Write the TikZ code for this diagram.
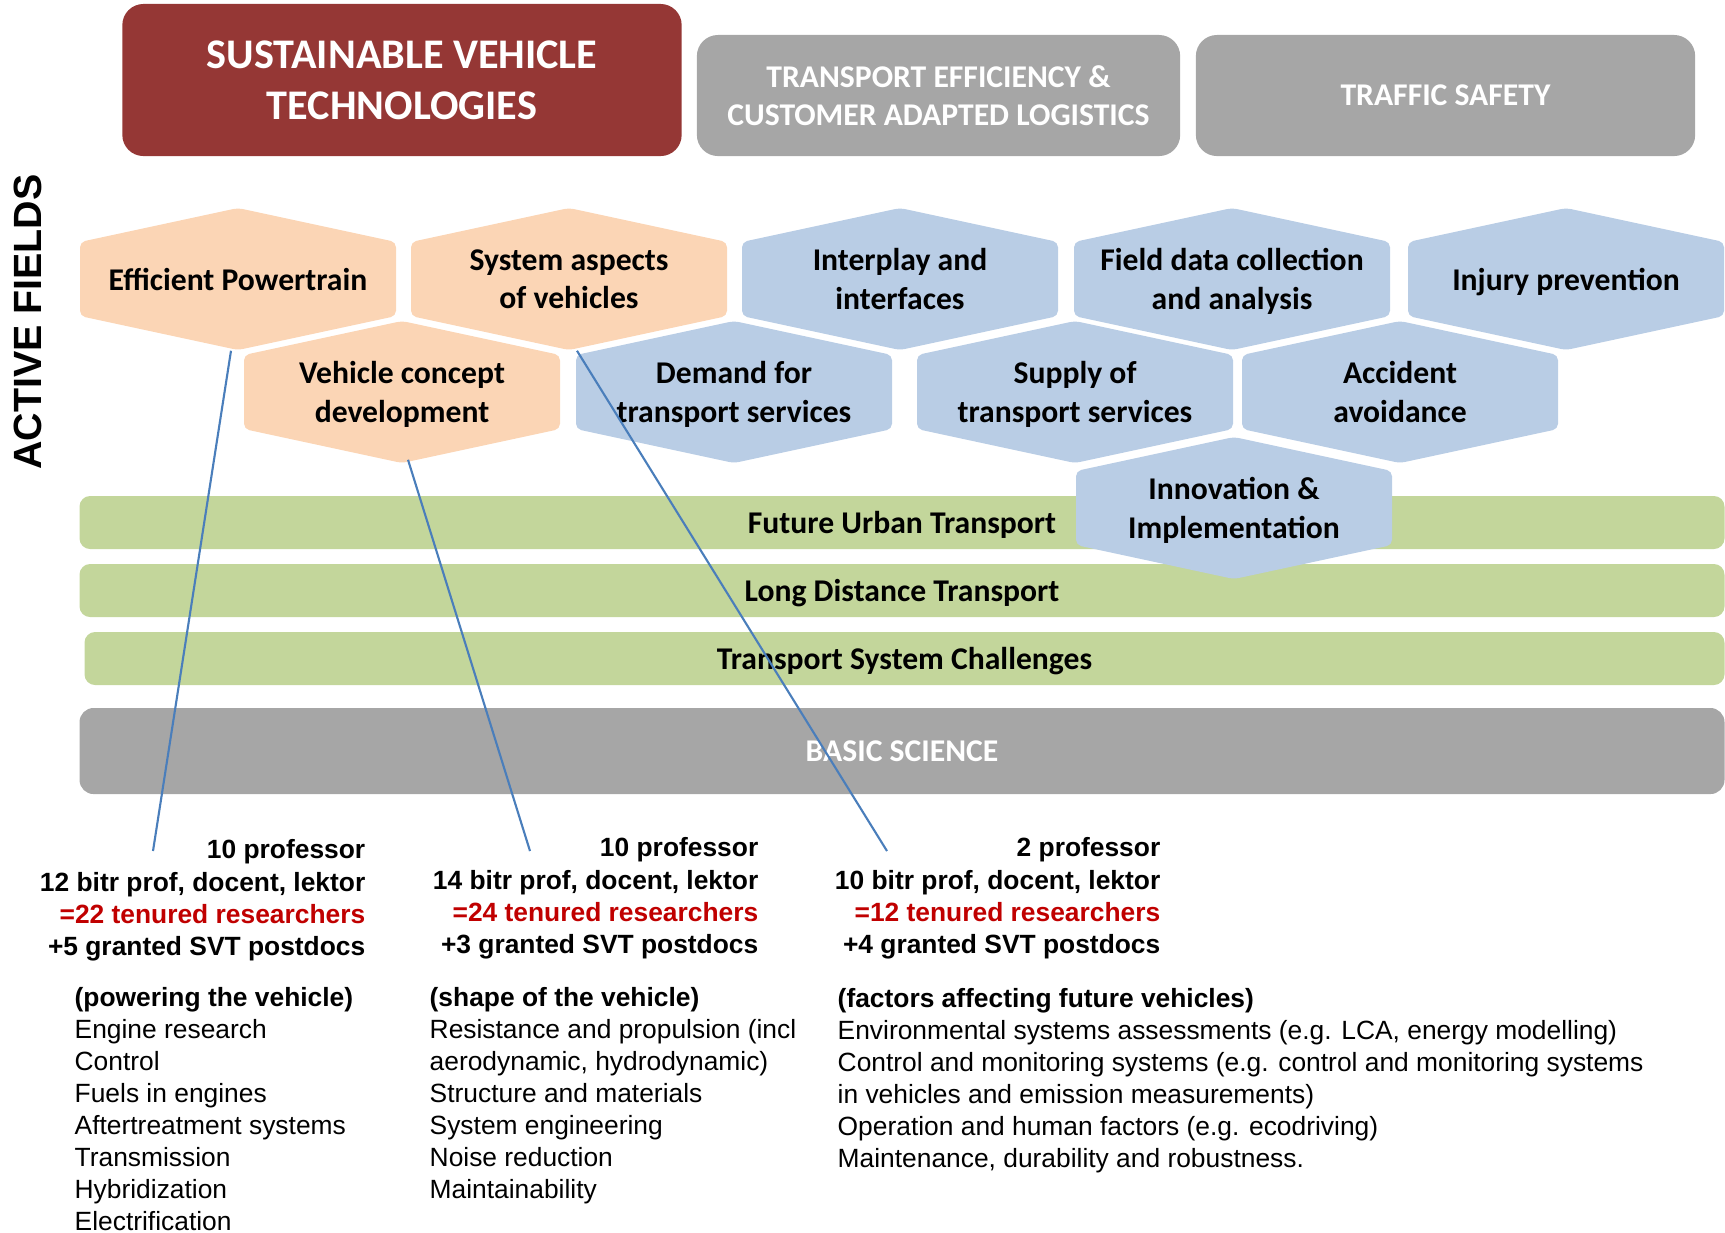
\documentclass[tikz,border=0pt]{standalone}
\usepackage{fontspec}
\setmainfont{Carlito}
\newfontfamily\arialfont{Liberation Sans}

\definecolor{svtred}{RGB}{149,55,53}
\definecolor{boxgrey}{RGB}{166,166,166}
\definecolor{peach}{RGB}{251,213,181}
\definecolor{hexblue}{RGB}{185,205,229}
\definecolor{bandgreen}{RGB}{195,214,155}
\definecolor{tenred}{RGB}{192,0,0}
\definecolor{linkblue}{RGB}{74,126,187}

\begin{document}
\begin{tikzpicture}[x=0.01cm, y=-0.01cm,
  hexcell/.style={minimum width=3.16cm, minimum height=1.42cm, inner sep=0pt, align=center,
    text depth=0pt, font=\bfseries\fontsize{9}{11}\selectfont},
  headbox/.style={fill=#1, rounded corners=6pt, text=white, align=center, inner sep=0pt,
    text depth=0pt, font=\bfseries\fontsize{9}{11}\selectfont},
  band/.style={fill=#1, rounded corners=3pt, inner sep=0pt, text depth=0pt,
    font=\bfseries\fontsize{9}{11}\selectfont},
  link/.style={draw=linkblue, line width=0.6pt},
  stats/.style={align=right, anchor=north east, inner sep=0pt,
    font=\arialfont\bfseries\fontsize{7.5}{9.2}\selectfont},
  topics/.style={align=left, anchor=north west, inner sep=0pt,
    font=\arialfont\fontsize{7.5}{9.1}\selectfont}]
\useasboundingbox (0,0) rectangle (1725,1232);

% theme boxes
\node[headbox=svtred, minimum width=5.59cm, minimum height=1.52cm,
  font=\bfseries\fontsize{12}{14.7}\selectfont] (svt) at (402,80) {SUSTAINABLE VEHICLE\\TECHNOLOGIES};
\node[headbox=boxgrey, minimum width=4.83cm, minimum height=1.21cm] (tel) at (938.5,95.5) {TRANSPORT EFFICIENCY \&\\CUSTOMER ADAPTED LOGISTICS};
\node[headbox=boxgrey, minimum width=4.99cm, minimum height=1.21cm] (tsafe) at (1445.5,95.5) {TRAFFIC SAFETY};

\node[rotate=90, font=\arialfont\bfseries\fontsize{11.2}{14}\selectfont] (af) at (28,322) {ACTIVE FIELDS};

% bands
\node[band=bandgreen, minimum width=16.44cm, minimum height=0.53cm] (fut) at (902,522.5) {Future Urban Transport};
\node[band=bandgreen, minimum width=16.44cm, minimum height=0.53cm] (ldt) at (902,590.5) {Long Distance Transport};
\node[band=bandgreen, minimum width=16.39cm, minimum height=0.53cm] (tsc) at (904.5,658.5) {Transport System Challenges};
\node[band=boxgrey, minimum width=16.44cm, minimum height=0.86cm, text=white, rounded corners=4pt] (bsc) at (902,751) {BASIC SCIENCE};

% hexagons
\foreach \nm/\x/\y/\c/\txt in {
  ep/238/279/peach/{Efficient Powertrain},
  sa/569/279/peach/{System aspects\\of vehicles},
  ip/900/279/hexblue/{Interplay and\\interfaces},
  fd/1232/279/hexblue/{Field data collection\\and analysis},
  inj/1566/279/hexblue/{Injury prevention},
  vc/402/392/peach/{Vehicle concept\\development},
  dem/734/392/hexblue/{Demand for\\transport services},
  sup/1075/392/hexblue/{Supply of\\transport services},
  acc/1400/392/hexblue/{Accident\\avoidance},
  inn/1234/508/hexblue/{Innovation \&\\Implementation}}{
  \fill[fill=\c, rounded corners=1.5pt] (\x,\y-71) -- (\x+158,\y-37) -- (\x+158,\y+37) -- (\x,\y+71)
    -- (\x-158,\y+37) -- (\x-158,\y-37) -- cycle;
  \node[hexcell] (\nm) at (\x,\y) {\txt};
}

% staff and topics
\node[stats] (st1) at (366,839) {10 professor\\12 bitr prof, docent, lektor\\\textcolor{tenred}{=22 tenured researchers}\\+5 granted SVT postdocs};
\node[stats] (st2) at (759,837) {10 professor\\14 bitr prof, docent, lektor\\\textcolor{tenred}{=24 tenured researchers}\\+3 granted SVT postdocs};
\node[stats] (st3) at (1161,837) {2 professor\\10 bitr prof, docent, lektor\\\textcolor{tenred}{=12 tenured researchers}\\+4 granted SVT postdocs};

\node[topics] (tp1) at (74,987) {\textbf{(powering the vehicle)}\\Engine research\\Control\\Fuels in engines\\Aftertreatment systems\\Transmission\\Hybridization\\Electrification};
\node[topics] (tp2) at (429,987) {\textbf{(shape of the vehicle)}\\Resistance and propulsion (incl\\aerodynamic, hydrodynamic)\\Structure and materials\\System engineering\\Noise reduction\\Maintainability};
\node[topics] (tp3) at (837,988) {\textbf{(factors affecting future vehicles)}\\Environmental systems assessments (e.g. LCA, energy modelling)\\Control and monitoring systems (e.g. control and monitoring systems\\in vehicles and emission measurements)\\Operation and human factors (e.g. ecodriving)\\Maintenance, durability and robustness.};

% links
\coordinate (e1) at (153,851);
\coordinate (e2) at (530,851);
\coordinate (e3) at (887,851);
\draw[link] ([xshift=-0.07cm]ep.south) -- (e1);
\draw[link] ([xshift=0.06cm, yshift=0.04cm]vc.south) -- (e2);
\draw[link] ([xshift=0.08cm]sa.south) -- (e3);
\end{tikzpicture}
\end{document}
